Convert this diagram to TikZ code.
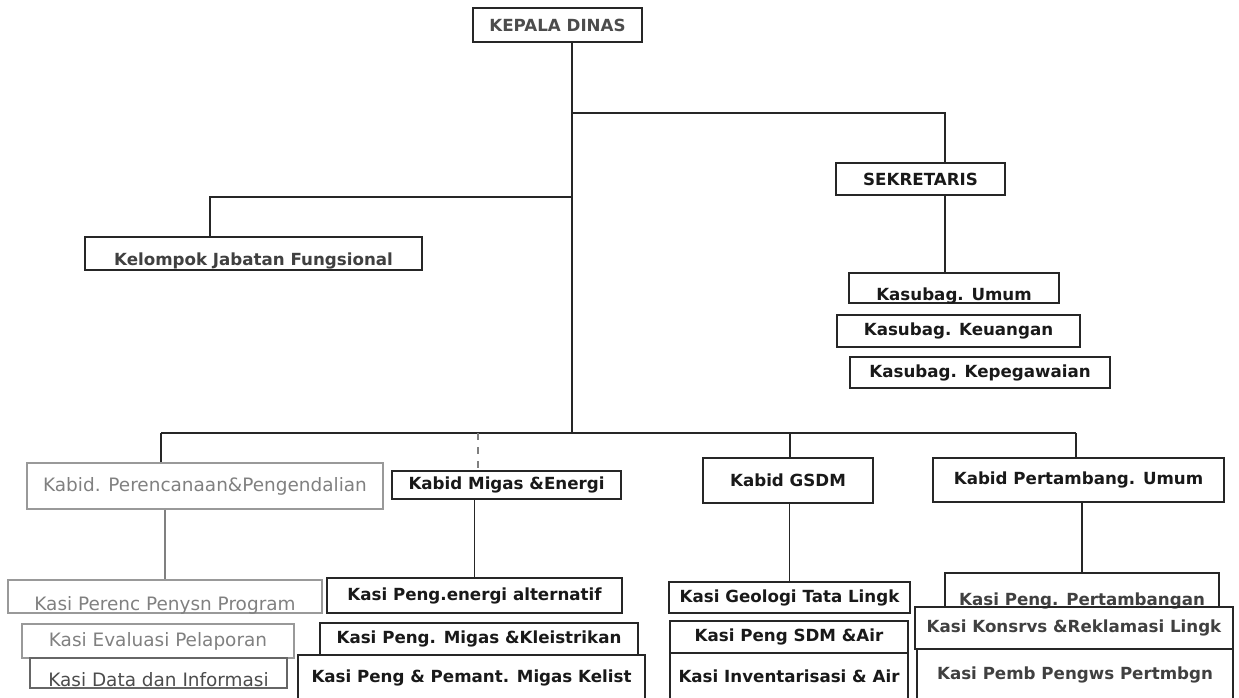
\documentclass[tikz,border=0pt]{standalone}
\usepackage{fontspec}
\setmainfont{DejaVu Sans}
\usepackage{tikz}
\usetikzlibrary{calc}

\begin{document}
\begin{tikzpicture}[x=0.02cm, y=-0.02cm,
    unit/.style={draw=black!85, line width=1pt, inner sep=0pt, text=black!90,
      font=\bfseries\fontsize{9.5}{11}\selectfont},
    faint/.style={unit, draw=black!40, line width=0.7pt, text=black!50,
      font=\fontsize{10.5}{12}\selectfont},
    boxsize/.style 2 args={minimum width=#1*0.02cm, minimum height=#2*0.02cm},
    sitlow/.style={text depth=0pt, text height=#1*0.02cm},
    link/.style={line width=1pt, draw=black!85}]
      \useasboundingbox (0, 0) rectangle (1239, 697);
      \node[unit, boxsize={169}{34}, text=black!70] (kepala) at (557.5, 25) {KEPALA DINAS};
      \node[unit, boxsize={169}{32}] (sekretaris) at (920.5, 179) {SEKRETARIS};
      \node[unit, boxsize={210}{30}, sitlow=24] (umum) at (954, 288) {Kasubag. Umum};
      \node[unit, boxsize={243}{32}] (keuangan) at (958.5, 331) {Kasubag. Keuangan};
      \node[unit, boxsize={260}{31}] (kepeg) at (980, 372.5) {Kasubag. Kepegawaian};
      \node[unit, boxsize={337}{33}, sitlow=23, text=black!75] (kelompok) at (253.5, 253.5)
        {Kelompok Jabatan Fungsional};

      \node[faint, boxsize={356}{46}] (kbPerenc) at (205, 486) {Kabid. Perencanaan\&Pengendalian};
      \node[unit, boxsize={229}{28}] (kbMigas) at (506.5, 485) {Kabid Migas \&Energi};
      \node[unit, boxsize={170}{45}] (kbGsdm) at (788, 480.5) {Kabid GSDM};
      \node[unit, boxsize={291}{44}] (kbTambang) at (1078.5, 480) {Kabid Pertambang. Umum};

      \node[faint, boxsize={314}{33}, sitlow=27] (ksProgram) at (165, 596.5) {Kasi Perenc Penysn Program};
      \node[faint, boxsize={272}{34}] (ksEvaluasi) at (158, 641) {Kasi Evaluasi Pelaporan};
      \node[faint, boxsize={257}{30}, sitlow=27, draw=black!60, text=black!70] (ksData) at (158.5, 673)
        {Kasi Data dan Informasi};

      \node[unit, boxsize={295}{35}] (ksEnergi) at (474.5, 595.5) {Kasi Peng.energi alternatif};
      \node[unit, boxsize={318}{32}] (ksListrik) at (479, 639) {Kasi Peng. Migas \&Kleistrikan};
      \node[unit, boxsize={347}{45}] (ksPemant) at (471.5, 677.5) {Kasi Peng \& Pemant. Migas Kelist};

      \node[unit, boxsize={241}{31}] (ksGeologi) at (789.5, 597.5) {Kasi Geologi Tata Lingk};
      \node[unit, boxsize={238}{32}] (ksSdm) at (789, 637) {Kasi Peng SDM \&Air};
      \node[unit, boxsize={238}{47}] (ksInvent) at (789, 676.5) {Kasi Inventarisasi \& Air};

      \node[unit, boxsize={274}{34}, sitlow=30, text=black!75] (ksTambang) at (1082, 590)
        {Kasi Peng. Pertambangan};
      \node[unit, boxsize={318}{42}, text=black!75] (ksReklam) at (1074, 628) {Kasi Konsrvs \&Reklamasi Lingk};
      \node[unit, boxsize={316}{51}, text=black!75] (ksPengws) at (1075, 674.5) {Kasi Pemb Pengws Pertmbgn};

      \coordinate (jsek) at (572, 113);
      \coordinate (jkel) at (572, 197);
      \coordinate (jbar) at (572, 433);
      \coordinate (sekturn) at (945, 113);
      \coordinate (kelturn) at (210, 197);
      \coordinate (barL) at (161, 433);
      \coordinate (barR) at (1076, 433);
      \coordinate (barMig) at (478, 433);
      \coordinate (barGsdm) at (790, 433);

      \draw[link] (kepala.south -| jbar) -- (jbar);
      \draw[link] (jsek) -- (sekturn) -- (sekturn |- sekretaris.north);
      \draw[link] (jkel) -- (kelturn) -- (kelturn |- kelompok.north);
      \draw[link] (sekretaris.south -| sekturn) -- (sekturn |- umum.north);
      \draw[link] (barL) -- (barR);
      \draw[link] (barL) -- (barL |- kbPerenc.north);
      \draw[link, draw=black!50, line width=0.6pt, dash pattern=on 4pt off 4pt]
        (barMig) -- (barMig |- kbMigas.north);
      \draw[link] (barGsdm) -- (barGsdm |- kbGsdm.north);
      \draw[link] (barR) -- (barR |- kbTambang.north);
      \draw[link, draw=black!50] (kbPerenc.south -| ksProgram.north) -- (ksProgram.north);
      \draw[link] (kbMigas.south -| ksEnergi.north) -- (ksEnergi.north);
      \draw[link] (kbGsdm.south -| ksGeologi.north) -- (ksGeologi.north);
      \draw[link] (kbTambang.south -| ksTambang.north) -- (ksTambang.north);
    \end{tikzpicture}
\end{document}
